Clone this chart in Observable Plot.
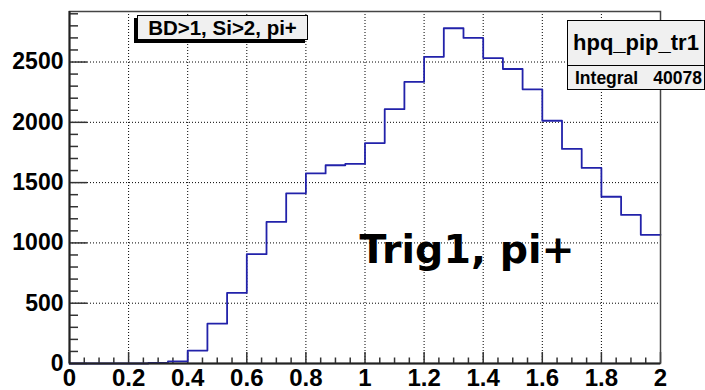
<!DOCTYPE html>
<html>
<head>
<meta charset="utf-8">
<script src="https://cdn.jsdelivr.net/npm/d3@7"></script>
<script src="https://cdn.jsdelivr.net/npm/@observablehq/plot@0.6"></script>
<style>
  html, body { margin: 0; padding: 0; background: #fff; }
  #wrap { position: relative; width: 705px; height: 390px; overflow: hidden; font-family: "Liberation Sans", Arial, sans-serif; font-weight: bold; }
  #legend { position: absolute; left: 137px; top: 15px; width: 169px; height: 23px; background: #f0f0f0; border: 1px solid #000; box-shadow: -3px 3px 0 #000; font-size: 20.5px; line-height: 23px; text-align: center; color: #000; white-space: nowrap; }
  #stats { position: absolute; left: 567px; top: 20px; width: 136px; height: 68px; background: #f0f0f0; border: 1px solid #000; color: #000; white-space: nowrap; }
  #stats .title { height: 44px; border-bottom: 1px solid #000; font-size: 22px; line-height: 44px; padding-left: 5px; }
  #stats .row { height: 23px; font-size: 17.5px; line-height: 24px; position: relative; }
  #stats .row .k { position: absolute; left: 7px; }
  #stats .row .v { position: absolute; right: 2px; }
</style>
</head>
<body>
<div id="wrap"></div>
<script>
// Histogram hpq_pip_tr1: 30 bins over [0, 2]
const binLow = [0, 0.0667, 0.1333, 0.2, 0.2667, 0.3333, 0.4, 0.4667, 0.5333, 0.6,
                0.6667, 0.7333, 0.8, 0.8667, 0.9333, 1.0, 1.0667, 1.1333, 1.2, 1.2667,
                1.3333, 1.4, 1.4667, 1.5333, 1.6, 1.6667, 1.7333, 1.8, 1.8667, 1.9333];
const binHigh = 2;
const counts = [0, 0, 0, 0, 4, 18, 107, 330, 586, 907,
                1174, 1411, 1576, 1644, 1655, 1828, 2109, 2335, 2543, 2780,
                2700, 2533, 2442, 2274, 2013, 1779, 1622, 1383, 1232, 1067];
const xMajor = [0, 0.2, 0.4, 0.6, 0.8, 1, 1.2, 1.4, 1.6, 1.8, 2];
const xMinor = [0.05,0.1,0.15,0.25,0.3,0.35,0.45,0.5,0.55,0.65,0.7,0.75,0.85,0.9,0.95,
                1.05,1.1,1.15,1.25,1.3,1.35,1.45,1.5,1.55,1.65,1.7,1.75,1.85,1.9,1.95];
const yMajor = [0, 500, 1000, 1500, 2000, 2500];
const yMinor = [100,200,300,400,600,700,800,900,1100,1200,1300,1400,1600,1700,1800,1900,
                2100,2200,2300,2400,2600,2700,2800,2900];
const histName = "hpq_pip_tr1";
const integralLabel = "Integral";
const integralValue = "40078";
const cutLabel = "BD>1, Si>2, pi+";
const bigLabel = "Trig1, pi+";

const W = 705, H = 390;
const mL = 69, mR = 45, mT = 11, mB = 27;
const fw = W - mL - mR, fh = H - mT - mB;

const steps = binLow.map((x, i) => ({x, y: counts[i]}));
steps.push({x: binHigh, y: counts[counts.length - 1]});

const font = "Liberation Sans, Arial, sans-serif";

const chart = Plot.plot({
  width: W, height: H,
  marginLeft: mL, marginRight: mR, marginTop: mT, marginBottom: mB,
  style: {background: "#fff", fontFamily: font},
  x: {domain: [0, 2]},
  y: {domain: [0, 2919]},
  marks: [
    // dotted grid
    Plot.ruleX(xMajor.slice(1, -1), {stroke: "#000", strokeWidth: 1, strokeDasharray: "1,2"}),
    Plot.ruleY(yMajor.slice(1), {stroke: "#000", strokeWidth: 1, strokeDasharray: "1,2"}),
    // ticks inside the frame
    Plot.tickY(yMajor, {y: d => d, stroke: "#333", strokeWidth: 1.5, insetRight: fw - 18}),
    Plot.tickY(yMinor, {y: d => d, stroke: "#333", strokeWidth: 1.5, insetRight: fw - 9}),
    Plot.tickX(xMajor, {x: d => d, stroke: "#333", strokeWidth: 1.5, insetTop: fh - 11}),
    Plot.tickX(xMinor, {x: d => d, stroke: "#333", strokeWidth: 1.5, insetTop: fh - 5.5}),
    // histogram outline
    Plot.line(steps, {x: "x", y: "y", curve: "step-after", stroke: "#2222aa", strokeWidth: 1.8}),
    // frame
    Plot.frame({stroke: "#444", strokeWidth: 1.5}),
    Plot.axisY({ticks: yMajor, tickSize: 0, tickPadding: 6, fontSize: 23, fontWeight: "bold", fontFamily: font, fill: "#000", label: null, tickFormat: d => String(d)}),
    Plot.axisX({ticks: xMajor, tickSize: 0, tickPadding: 5, fontSize: 24, fontWeight: "bold", fontFamily: font, fill: "#000", label: null, tickFormat: d => String(d)}),
    Plot.ruleX([0], {stroke: "#222", strokeWidth: 2}),
    Plot.ruleY([0], {stroke: "#222", strokeWidth: 2}),
    Plot.text([bigLabel], {text: d => d, frameAnchor: "top-left", dx: 290, dy: 251, lineAnchor: "bottom", textAnchor: "start",
      fontSize: 39.5, fontWeight: "bold", fontFamily: "DejaVu Sans", fill: "#000"})
  ]
});

const wrap = document.getElementById("wrap");
wrap.appendChild(chart);

const legend = document.createElement("div");
legend.id = "legend";
legend.textContent = cutLabel;
wrap.appendChild(legend);

const stats = document.createElement("div");
stats.id = "stats";
const t = document.createElement("div"); t.className = "title"; t.textContent = histName;
const r = document.createElement("div"); r.className = "row";
const k = document.createElement("span"); k.className = "k"; k.textContent = integralLabel;
const v = document.createElement("span"); v.className = "v"; v.textContent = integralValue;
r.appendChild(k); r.appendChild(v);
stats.appendChild(t); stats.appendChild(r);
wrap.appendChild(stats);
</script>
</body>
</html>
